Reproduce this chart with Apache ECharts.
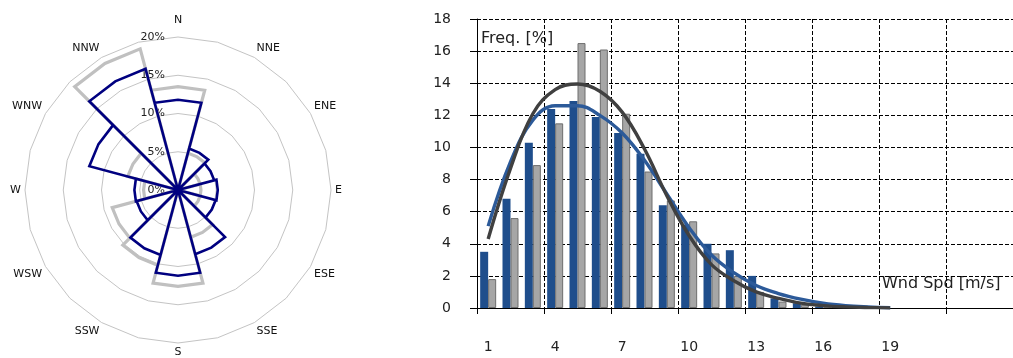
<!DOCTYPE html>
<html><head><meta charset="utf-8">
<script src="https://cdn.jsdelivr.net/npm/echarts@6/dist/echarts.min.js"></script>
<style>html,body{margin:0;padding:0;background:#fff}#c{width:1013px;height:358px}</style>
</head><body><div id="c"></div>
<script>
// ---- Wind rose data ----
const roseDirections = ['N','NNE','ENE','E','ESE','SSE','S','SSW','WSW','W','WNW','NNW'];
const roseAngles = [0,30,60,90,120,150,180,210,240,270,300,330];
const roseBlue = [11.8,5.6,4.9,5.2,5.1,8.7,11.2,8.8,5.6,5.7,12.0,16.4];
const roseGray = [13.5,5.0,3.0,3.0,3.0,6.4,12.6,10.2,8.9,4.5,6.8,19.1];
const roseTicks = [0,5,10,15,20];

// ---- Histogram data ----
const speedCategories = ['1','2','3','4','5','6','7','8','9','10','11','12','13','14','15','16','17','18','19','20','21','22','23','24'];
const lastLabel = '19';
const freqBlue = [3.5,6.8,10.3,12.4,12.9,11.9,10.9,9.6,6.4,5.2,4.0,3.6,2.0,0.6,0.3,0.1,0.1];
const freqGray = [1.8,5.6,8.9,11.5,16.5,16.1,12.1,8.5,6.7,5.4,3.4,2.0,1.0,0.4,0.2,0.1];
const fitBlue = [5.1,9.1,11.7,12.6,12.6,12.0,10.9,9.2,7.1,5.0,3.3,2.2,1.4,0.9,0.55,0.3,0.15,0.07,0.02];
const fitGray = [4.3,8.7,12.1,13.6,13.95,13.5,12.2,9.9,7.0,4.5,2.7,1.7,1.0,0.6,0.3,0.15,0.07,0.03,0.01];
const yTicks = [0,18,2];

const HALF = 15;
function petals(values){
  const d = [];
  values.forEach((v,i)=>{
    const a = roseAngles[i];
    const a0 = (a - HALF + 360) % 360, a1 = a + HALF;
    d.push([0,a0],[v,a0],[v,a],[v,a1],[0,a1]);
  });
  return d;
}
const FONT = 'DejaVu Sans';
const radarInd = [];
for (let i = 0; i < 24; i++) radarInd.push({name:'', min:0, max:roseTicks[roseTicks.length-1]});
const lastIdx = speedCategories.indexOf(lastLabel);

const chart = echarts.init(document.getElementById('c'), null, {renderer:'canvas'});
chart.setOption({
  animation:false,
  backgroundColor:'#fff',
  radar:{
    center:[178,190], radius:153, startAngle:90, splitNumber:4, shape:'polygon',
    indicator: radarInd,
    axisName:{show:false},
    axisLine:{show:false}, axisTick:{show:false}, axisLabel:{show:false},
    splitArea:{show:false},
    splitLine:{lineStyle:{color:'#c4c4c4', width:1}}
  },
  polar:{center:[178,190], radius:153},
  angleAxis:{
    type:'value', min:0, max:360, interval:30, startAngle:90, clockwise:true,
    axisLine:{show:false}, axisTick:{show:false}, splitLine:{show:false},
    axisLabel:{margin:4, fontFamily:FONT, fontSize:11, color:'#111',
      rich:{top:{fontFamily:FONT, fontSize:11, color:'#111', padding:[0,0,7,0]}},
      formatter:(v)=>{const i=roseAngles.indexOf(v); if(i<0) return ''; return i===0?'{top|'+roseDirections[i]+'}':roseDirections[i];}}
  },
  radiusAxis:{
    type:'value', min:roseTicks[0], max:roseTicks[roseTicks.length-1], interval:5,
    axisLine:{show:false}, axisTick:{show:false}, splitLine:{show:false},
    axisLabel:{margin:13, fontFamily:FONT, fontSize:11, color:'#222', formatter:'{value}%'}
  },
  grid:{left:477, top:19, right:-11, bottom:50},
  xAxis:{
    type:'category', data:speedCategories, boundaryGap:true,
    axisLine:{lineStyle:{color:'#000', width:1}},
    axisTick:{show:true, interval:2, length:6, lineStyle:{color:'#000'}},
    axisLabel:{interval:2, margin:32, fontFamily:FONT, fontSize:14, color:'#222',
      formatter:(v,idx)=> idx<=lastIdx ? v : ''},
    splitLine:{show:true, interval:2, lineStyle:{color:'#000', type:[4,2], width:1}}
  },
  yAxis:{
    type:'value', min:yTicks[0], max:yTicks[1], interval:yTicks[2],
    axisLine:{show:true, lineStyle:{color:'#000', width:1}},
    axisTick:{show:true, length:7, lineStyle:{color:'#000'}},
    axisLabel:{margin:26, fontFamily:FONT, fontSize:14, color:'#222'},
    splitLine:{show:true, lineStyle:{color:'#000', type:[4,2], width:1}}
  },
  graphic:[
    {type:'text', left:481, top:31, style:{text:'Freq. [%]', font:'16px "DejaVu Sans"', fill:'#222'}},
    {type:'text', left:882, top:276, style:{text:'Wnd Spd [m/s]', font:'16px "DejaVu Sans"', fill:'#222'}}
  ],
  series:[
    {type:'radar', data:[]},
    {type:'line', coordinateSystem:'polar', data:petals(roseGray), symbol:'none',
     lineStyle:{color:'#c0c0c0', width:3.2, join:'miter'}, z:2},
    {type:'line', coordinateSystem:'polar', data:petals(roseBlue), symbol:'none',
     lineStyle:{color:'#000080', width:2.6, join:'miter'}, z:3},
    {type:'bar', data:freqBlue, barWidth:8, barGap:'0%', itemStyle:{color:'#1f4e8c'}},
    {type:'bar', data:freqGray, barWidth:8, barGap:'0%', itemStyle:{color:'#a6a6a6', borderColor:'#6e6e6e', borderWidth:1}},
    {type:'line', data:fitBlue, smooth:0.4, symbol:'none', lineStyle:{color:'#2c5a99', width:3.4}, z:4},
    {type:'line', data:fitGray, smooth:0.4, symbol:'none', lineStyle:{color:'#404040', width:3.4}, z:5}
  ]
});
</script></body></html>
